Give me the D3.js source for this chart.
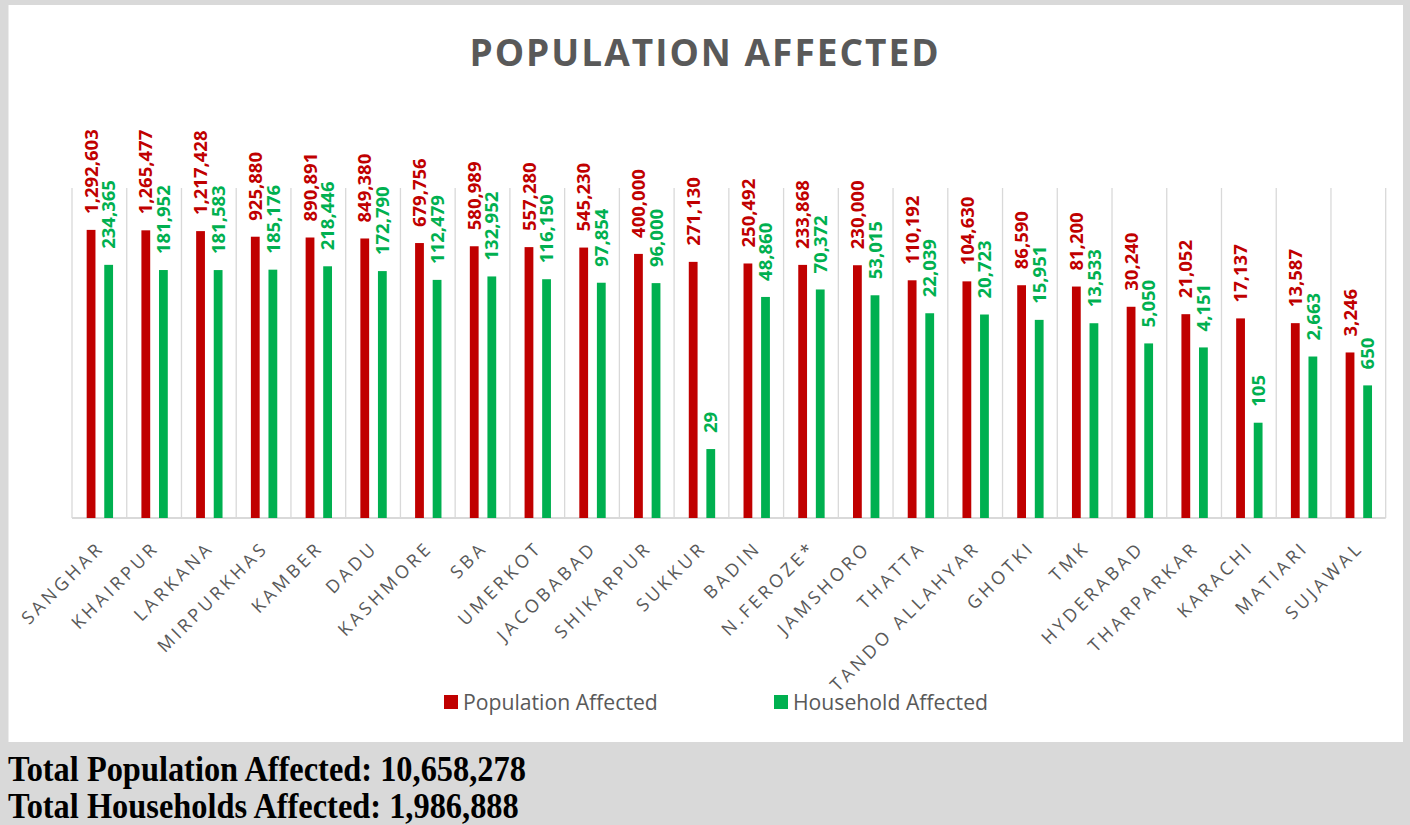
<!DOCTYPE html>
<html>
<head>
<meta charset="utf-8">
<script src="https://cdn.jsdelivr.net/npm/d3@7"></script>
<style>
  html, body { margin: 0; padding: 0; background: #d9d9d9; }
  svg { display: block; }
</style>
</head>
<body>
<svg id="chart" width="1410" height="825"></svg>
<script>
const categories = ["SANGHAR","KHAIRPUR","LARKANA","MIRPURKHAS","KAMBER","DADU","KASHMORE","SBA","UMERKOT","JACOBABAD","SHIKARPUR","SUKKUR","BADIN","N.FEROZE*","JAMSHORO","THATTA","TANDO ALLAHYAR","GHOTKI","TMK","HYDERABAD","THARPARKAR","KARACHI","MATIARI","SUJAWAL"];
const populationAffected = [1292603,1265477,1217428,925880,890891,849380,679756,580989,557280,545230,400000,271130,250492,233868,230000,110192,104630,86590,81200,30240,21052,17137,13587,3246];
const householdAffected = [234365,181952,181583,185176,218446,172790,112479,132952,116150,97854,96000,29,48860,70372,53015,22039,20723,15951,13533,5050,4151,105,2663,650];
const seriesNames = ["Population Affected","Household Affected"];
const seriesColors = ["#c00000","#00b050"];
const titleText = "POPULATION AFFECTED";

const svg = d3.select("#chart");
const fmt = d3.format(",");

// white chart panel
svg.append("rect").attr("x", 8.5).attr("y", 5).attr("width", 1394.5).attr("height", 737).attr("fill", "#ffffff");

// title
svg.append("text")
  .attr("x", 705).attr("y", 66)
  .attr("text-anchor", "middle")
  .attr("font-family", "'Open Sans', sans-serif")
  .attr("font-weight", 700)
  .attr("font-size", 37)
  .attr("letter-spacing", 2)
  .attr("fill", "#595959")
  .text(titleText);

const x0 = d3.scaleBand().domain(categories).range([72, 1385.7]).padding(0);
const bw = x0.bandwidth();
const x1 = d3.scaleBand().domain(seriesNames).range([bw * 0.268, bw * 0.75]).paddingInner(0.5).paddingOuter(0);
const y = d3.scaleLog().domain([1, 1e7]).range([518, 188]);

// vertical category separators
const seps = categories.map((c) => x0(c)).concat([x0.range()[1]]);
svg.append("g").selectAll("line").data(seps).join("line")
  .attr("x1", d => d).attr("x2", d => d)
  .attr("y1", 188).attr("y2", 518)
  .attr("stroke", "#d9d9d9").attr("stroke-width", 1.3);

// baseline axis
svg.append("line").attr("x1", 72).attr("x2", 1385.7).attr("y1", 518).attr("y2", 518)
  .attr("stroke", "#d9d9d9").attr("stroke-width", 1.8);

const rows = categories.map((c, i) => ({ cat: c, vals: [populationAffected[i], householdAffected[i]] }));

const groups = svg.append("g").selectAll("g").data(rows).join("g")
  .attr("transform", d => `translate(${x0(d.cat)},0)`);

groups.selectAll("rect").data(d => d.vals.map((v, k) => ({ v, k }))).join("rect")
  .attr("x", d => x1(seriesNames[d.k]))
  .attr("width", x1.bandwidth())
  .attr("y", d => y(d.v))
  .attr("height", d => y(1) - y(d.v))
  .attr("fill", d => seriesColors[d.k]);

groups.selectAll("text").data(d => d.vals.map((v, k) => ({ v, k }))).join("text")
  .attr("transform", d => `translate(${x1(seriesNames[d.k]) + x1.bandwidth() / 2},${y(d.v) - 16}) rotate(-90)`)
  .attr("dy", "0.36em")
  .attr("text-anchor", "start")
  .attr("font-family", "'Open Sans', sans-serif")
  .attr("font-weight", 700)
  .attr("font-size", 18.5)
  .attr("fill", d => seriesColors[d.k])
  .text(d => fmt(d.v));

// category labels
const xAxis = d3.axisBottom(x0).tickSize(0).tickPadding(0);
const gx = svg.append("g").attr("transform", "translate(0,518)").call(xAxis);
gx.select(".domain").remove();
gx.selectAll(".tick text")
  .attr("font-family", "'Open Sans', sans-serif")
  .attr("font-size", 18)
  .attr("letter-spacing", 3.5)
  .attr("fill", "#595959")
  .attr("text-anchor", "end")
  .attr("y", 0).attr("dy", 0)
  .attr("transform", "translate(6,31) rotate(-45)");

// legend
const legend = svg.append("g");
const legendX = [444, 774];
seriesNames.forEach((n, k) => {
  legend.append("rect").attr("x", legendX[k]).attr("y", 695).attr("width", 14).attr("height", 14).attr("fill", seriesColors[k]);
  legend.append("text").attr("x", legendX[k] + 19).attr("y", 709.5)
    .attr("font-family", "'Open Sans', sans-serif").attr("font-size", 21.2)
    .attr("fill", "#595959").text(n);
});

// totals
const totals = [
  "Total Population Affected: " + fmt(d3.sum(populationAffected)),
  "Total Households Affected: " + fmt(d3.sum(householdAffected))
];
svg.append("g").selectAll("text").data(totals).join("text")
  .attr("transform", (d, i) => `translate(8,${781 + i * 37}) scale(0.9,1)`)
  .attr("font-family", "'Liberation Serif', 'Times New Roman', serif")
  .attr("font-weight", 700).attr("font-size", 36).attr("fill", "#000")
  .text(d => d);
</script>
</body>
</html>
